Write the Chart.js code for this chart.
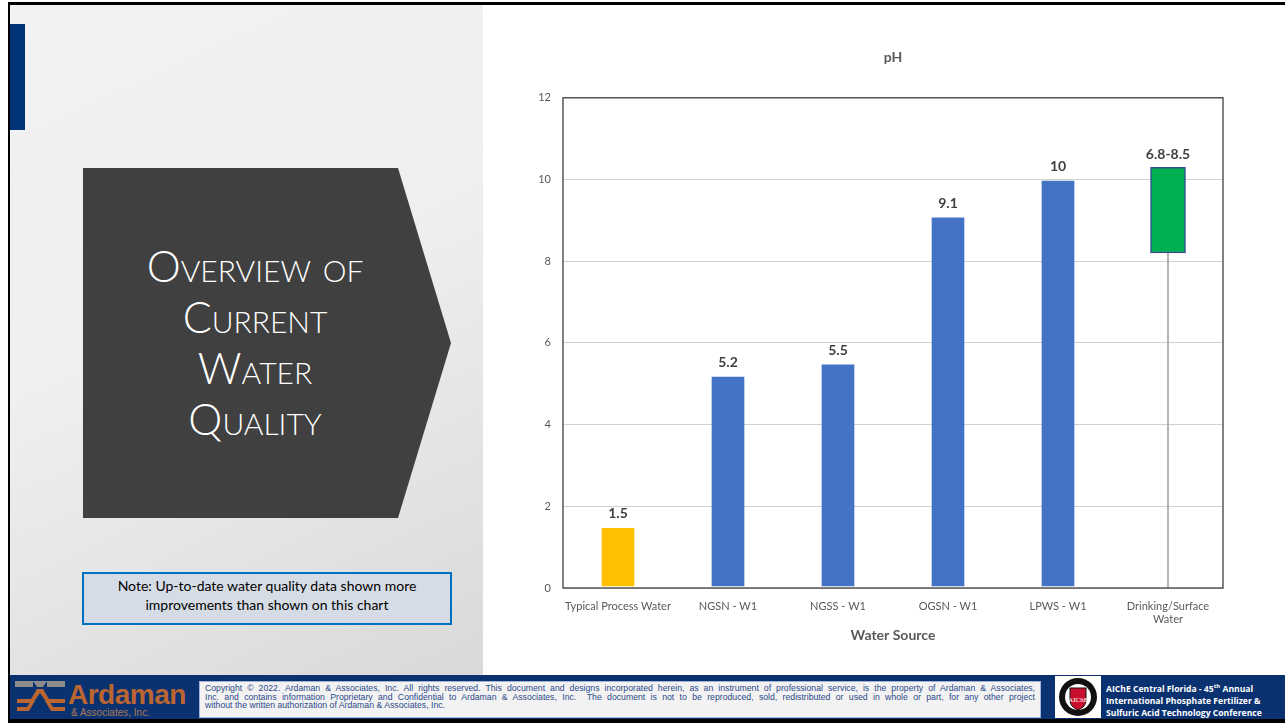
<!DOCTYPE html>
<html>
<head>
<meta charset="utf-8">
<script src="https://cdn.jsdelivr.net/npm/chart.js@4.4.1/dist/chart.umd.min.js"></script>
<style>
  body { margin: 0; width: 1285px; height: 723px; position: relative; overflow: hidden; background: #fff; font-family: Lato, "Open Sans", sans-serif; }
  #topline { position: absolute; left: 8px; top: 2px; width: 1277px; height: 3px; background: #000; }
  #leftline { position: absolute; left: 8px; top: 2px; width: 2px; height: 721px; background: #000; }
  #panel { position: absolute; left: 10px; top: 5px; width: 473px; height: 670px; background: linear-gradient(155deg, #f2f2f2 0%, #efefef 45%, #d9d9d9 100%); }
  #bluebar { position: absolute; left: 10px; top: 24px; width: 15px; height: 106px; background: #003478; }
  #arrow { position: absolute; left: 83px; top: 168px; width: 368px; height: 350px; background: #404040; clip-path: polygon(0 0, 85.6% 0, 100% 50%, 85.6% 100%, 0 100%); }
  #heading { position: absolute; left: 83px; top: 240px; width: 344px; text-align: center; color: #fff; font-family: Lato, sans-serif; font-weight: 300; font-variant: small-caps; font-size: 43px; line-height: 51px; }
  #note { position: absolute; left: 82px; top: 572px; width: 366px; height: 47px; border: 2px solid #0070c0; background: #d6dce5; font-size: 14px; line-height: 19px; text-align: center; color: #000; box-sizing: content-box; padding-top: 2px; }
  #chartbox { position: absolute; left: 483px; top: 5px; width: 802px; height: 670px; }
  #footer { position: absolute; left: 10px; top: 675px; width: 1275px; height: 44px; background: #0b3270; border-bottom: 4px solid #000; }
  #ardaman { position: absolute; left: 58px; top: 4px; color: #bb6530; font-family: "Liberation Sans", Arial, sans-serif; font-weight: bold; font-size: 28px; letter-spacing: -0.5px; }
  #assoc { position: absolute; left: 61px; top: 32px; color: #a9785a; font-family: "Liberation Sans", Arial, sans-serif; font-size: 10px; }
  #copy { position: absolute; left: 189px; top: 6px; width: 830px; height: 31px; background: #f2f2f2; border: 1px solid #9fb3d6; padding: 2px 5px; font-family: "Liberation Sans", Arial, sans-serif; font-size: 8.7px; line-height: 8.6px; color: #2b4a8a; }
  #copy div { text-align: justify; text-align-last: justify; }
  #copy div.last { text-align-last: left; }
  #aiche { position: absolute; left: 1096px; top: 5px; color: #fff; font-family: "Open Sans", Lato, sans-serif; font-weight: bold; font-size: 8.6px; line-height: 12px; }
</style>
</head>
<body>
<div id="panel"></div>
<div id="bluebar"></div>
<div id="topline"></div>
<div id="leftline"></div>
<div id="arrow"></div>
<div id="heading">Overview of<br>Current<br>Water<br>Quality</div>
<div id="note">Note: Up-to-date water quality data shown more<br>improvements than shown on this chart</div>
<div id="chartbox"><canvas id="ph-chart"></canvas></div>
<div id="footer">
  <svg style="position:absolute;left:5px;top:4px" width="52" height="36" viewBox="0 0 52 36">
    <rect x="0" y="2" width="18" height="6" fill="#8c8c8c"/>
    <rect x="32" y="2" width="18" height="6" fill="#8c8c8c"/>
    <polygon points="18,2 32,2 28,8 22,8" fill="#8c8c8c"/>
    <polygon points="2,20 16,20 22,10 28,10 34,20 50,20 50,24 32,24 25,14 18,24 2,24" fill="#bb6530"/>
    <polygon points="2,28 12,28 16,22 20,22 14,32 2,32" fill="#bb6530"/>
    <polygon points="30,22 34,22 38,28 50,28 50,32 36,32" fill="#bb6530"/>
  </svg>
  <div id="ardaman">Ardaman</div>
  <div id="assoc">&amp; Associates, Inc.</div>
  <div id="copy">
    <div>Copyright © 2022. Ardaman &amp; Associates, Inc. All rights reserved. This document and designs incorporated herein, as an instrument of professional service, is the property of Ardaman &amp; Associates,</div>
    <div>Inc. and contains information Proprietary and Confidential to Ardaman &amp; Associates, Inc.&nbsp; The document is not to be reproduced, sold, redistributed or used in whole or part, for any other project</div>
    <div class="last">without the written authorization of Ardaman &amp; Associates, Inc.</div>
  </div>
  <svg style="position:absolute;left:1045px;top:1px" width="46" height="42" viewBox="0 0 46 42">
    <rect x="0" y="0" width="46" height="42" fill="#fff"/>
    <circle cx="23" cy="21" r="19" fill="#111"/>
    <circle cx="23" cy="21" r="13" fill="#fff"/>
    <path d="M15,12 L31,12 L31,24 Q31,31 23,34 Q15,31 15,24 Z" fill="#c8102e" stroke="#111" stroke-width="1"/>
    <text x="23" y="26" font-size="7" font-family="Liberation Serif" fill="#fff" text-anchor="middle">AIChE</text>
  </svg>
  <div id="aiche">AIChE Central Florida - 45<sup style="font-size:6px">th</sup> Annual<br>International Phosphate Fertilizer &amp;<br>Sulfuric Acid Technology Conference</div>
</div>

<script>
// pH by water source
const categories = ['Typical Process Water', 'NGSN - W1', 'NGSS - W1', 'OGSN - W1', 'LPWS - W1', ['Drinking/Surface', 'Water']];
const phValues = [1.5, 5.2, 5.5, 9.1, 10, [8.2, 10.3]];
const phLabels = ['1.5', '5.2', '5.5', '9.1', '10', '6.8-8.5'];
const rangeLine = [null, null, null, null, null, [0, 8.2]];
const barColors = ['#ffc000', '#4472c4', '#4472c4', '#4472c4', '#4472c4', '#00b050'];
const yTicks = [0, 2, 4, 6, 8, 10, 12];

// labels over the bars
const valueLabels = {
    id: 'valueLabels',
    afterDatasetsDraw(chart) {
        const ctx = chart.ctx;
        const meta = chart.getDatasetMeta(1);
        ctx.save();
        ctx.font = 'bold 14px Lato, sans-serif';
        ctx.fillStyle = '#404040';
        ctx.textAlign = 'center';
        ctx.textBaseline = 'bottom';
        meta.data.forEach((bar, i) => {
            const top = Math.min(bar.y, bar.base);
            ctx.fillText(phLabels[i], bar.x, top - 6);
        });
        ctx.restore();
    }
};

// box round the plot area
const plotBorder = {
    id: 'plotBorder',
    afterDraw(chart) {
        const a = chart.chartArea;
        const ctx = chart.ctx;
        ctx.save();
        ctx.strokeStyle = '#404040';
        ctx.lineWidth = 1.3;
        ctx.strokeRect(a.left, a.top, a.right - a.left, a.bottom - a.top);
        ctx.restore();
    }
};

new Chart(document.getElementById('ph-chart'), {
    type: 'bar',
    data: {
        labels: categories,
        datasets: [{
            data: rangeLine,
            backgroundColor: '#a6a6a6',
            barThickness: 1,
            grouped: false,
            order: 2
        }, {
            data: phValues,
            backgroundColor: barColors,
            borderColor: ['rgba(0,0,0,0)', 'rgba(0,0,0,0)', 'rgba(0,0,0,0)', 'rgba(0,0,0,0)', 'rgba(0,0,0,0)', '#2f528f'],
            borderWidth: 1.5,
            borderSkipped: false,
            barThickness: 35,
            grouped: false,
            order: 1
        }]
    },
    options: {
        responsive: true,
        maintainAspectRatio: false,
        animation: false,
        layout: { padding: { left: 0, right: 62, top: 0, bottom: 27 } },
        plugins: {
            legend: { display: false },
            tooltip: { enabled: false },
            title: {
                display: true,
                text: 'pH',
                fullSize: false,
                color: '#595959',
                font: { family: 'Lato, sans-serif', size: 14, weight: 'bold' },
                padding: { top: 44, bottom: 32 }
            }
        },
        scales: {
            x: {
                grid: { display: false },
                border: { display: false },
                ticks: {
                    color: '#595959',
                    font: { family: 'Lato, sans-serif', size: 11 },
                    padding: 4,
                    maxRotation: 0,
                    autoSkip: false
                },
                title: {
                    display: true,
                    text: 'Water Source',
                    color: '#595959',
                    font: { family: 'Lato, sans-serif', size: 14, weight: 'bold' },
                    padding: { top: 4 }
                },
                afterFit: s => { s.height = 60; }
            },
            y: {
                min: 0,
                max: 12,
                afterBuildTicks: s => { s.ticks = yTicks.map(v => ({ value: v })); },
                grid: { color: '#d0d0d0', drawTicks: false },
                border: { display: false },
                ticks: {
                    color: '#595959',
                    font: { family: 'Lato, sans-serif', size: 11 },
                    padding: 12
                },
                afterFit: s => { s.width = 80; }
            }
        }
    },
    plugins: [valueLabels, plotBorder]
});
</script>
</body>
</html>
